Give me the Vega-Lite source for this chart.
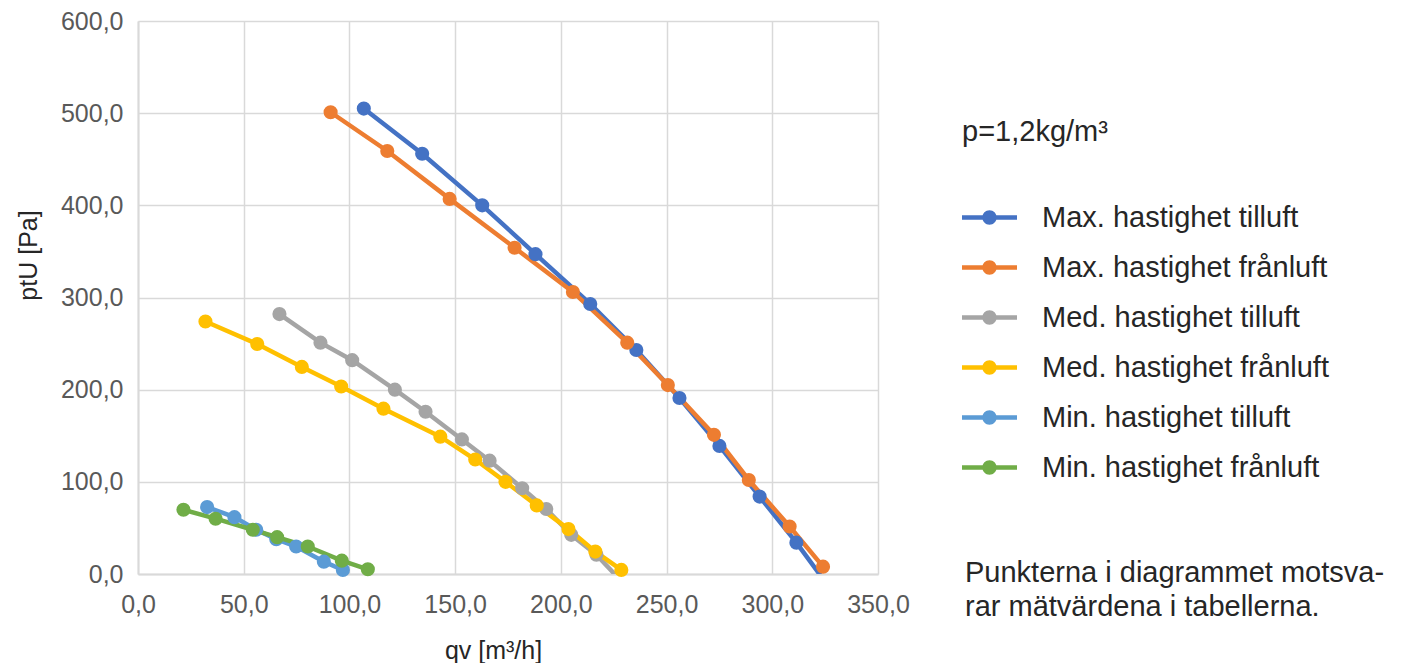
{
  "$schema": "https://vega.github.io/schema/vega-lite/v6.json",
  "width": 740,
  "height": 553,
  "autosize": {"type": "none"},
  "padding": {"left": 138, "top": 21, "right": 527, "bottom": 89},
  "background": "white",
  "title": {
    "text": ["Punkterna i diagrammet motsva-", "rar mätvärdena i tabellerna."],
    "orient": "bottom",
    "anchor": "start",
    "frame": "group",
    "align": "left",
    "baseline": "top",
    "dx": 827,
    "dy": -104,
    "offset": 0,
    "fontSize": 29,
    "font": "Liberation Sans",
    "fontWeight": "normal",
    "color": "#262626",
    "lineHeight": 34
  },
  "config": {
    "view": {"stroke": null},
    "font": "Liberation Sans"
  },
  "data": {
    "values": [
      {"serie": "Max. hastighet tilluft", "qv": 106.8, "ptU": 505},
      {"serie": "Max. hastighet tilluft", "qv": 134.4, "ptU": 456},
      {"serie": "Max. hastighet tilluft", "qv": 162.8, "ptU": 400},
      {"serie": "Max. hastighet tilluft", "qv": 188.0, "ptU": 347},
      {"serie": "Max. hastighet tilluft", "qv": 213.9, "ptU": 293},
      {"serie": "Max. hastighet tilluft", "qv": 235.7, "ptU": 243},
      {"serie": "Max. hastighet tilluft", "qv": 256.1, "ptU": 191},
      {"serie": "Max. hastighet tilluft", "qv": 275.0, "ptU": 139},
      {"serie": "Max. hastighet tilluft", "qv": 294.0, "ptU": 84},
      {"serie": "Max. hastighet tilluft", "qv": 311.4, "ptU": 34},
      {"serie": "Max. hastighet tilluft", "qv": 325.5, "ptU": -10},
      {"serie": "Max. hastighet frånluft", "qv": 91.1, "ptU": 501},
      {"serie": "Max. hastighet frånluft", "qv": 117.9, "ptU": 459},
      {"serie": "Max. hastighet frånluft", "qv": 147.4, "ptU": 407},
      {"serie": "Max. hastighet frånluft", "qv": 178.1, "ptU": 354},
      {"serie": "Max. hastighet frånluft", "qv": 205.7, "ptU": 306},
      {"serie": "Max. hastighet frånluft", "qv": 231.4, "ptU": 251},
      {"serie": "Max. hastighet frånluft", "qv": 250.6, "ptU": 205},
      {"serie": "Max. hastighet frånluft", "qv": 272.4, "ptU": 151},
      {"serie": "Max. hastighet frånluft", "qv": 288.9, "ptU": 102},
      {"serie": "Max. hastighet frånluft", "qv": 308.2, "ptU": 51.5},
      {"serie": "Max. hastighet frånluft", "qv": 324.0, "ptU": 8},
      {"serie": "Med. hastighet tilluft", "qv": 66.9, "ptU": 282},
      {"serie": "Med. hastighet tilluft", "qv": 86.3, "ptU": 251},
      {"serie": "Med. hastighet tilluft", "qv": 101.3, "ptU": 232},
      {"serie": "Med. hastighet tilluft", "qv": 121.5, "ptU": 200},
      {"serie": "Med. hastighet tilluft", "qv": 136.0, "ptU": 176},
      {"serie": "Med. hastighet tilluft", "qv": 153.2, "ptU": 146},
      {"serie": "Med. hastighet tilluft", "qv": 166.3, "ptU": 123},
      {"serie": "Med. hastighet tilluft", "qv": 181.7, "ptU": 93},
      {"serie": "Med. hastighet tilluft", "qv": 193.1, "ptU": 70.5},
      {"serie": "Med. hastighet tilluft", "qv": 204.9, "ptU": 42.5},
      {"serie": "Med. hastighet tilluft", "qv": 216.8, "ptU": 21},
      {"serie": "Med. hastighet tilluft", "qv": 229.5, "ptU": -10},
      {"serie": "Med. hastighet frånluft", "qv": 31.9, "ptU": 274},
      {"serie": "Med. hastighet frånluft", "qv": 56.4, "ptU": 249.5},
      {"serie": "Med. hastighet frånluft", "qv": 77.5, "ptU": 224.7},
      {"serie": "Med. hastighet frånluft", "qv": 96.1, "ptU": 203.4},
      {"serie": "Med. hastighet frånluft", "qv": 116.1, "ptU": 179.4},
      {"serie": "Med. hastighet frånluft", "qv": 143.0, "ptU": 149},
      {"serie": "Med. hastighet frånluft", "qv": 159.5, "ptU": 124.2},
      {"serie": "Med. hastighet frånluft", "qv": 173.8, "ptU": 100},
      {"serie": "Med. hastighet frånluft", "qv": 188.6, "ptU": 74.4},
      {"serie": "Med. hastighet frånluft", "qv": 203.6, "ptU": 48.7},
      {"serie": "Med. hastighet frånluft", "qv": 216.3, "ptU": 24.3},
      {"serie": "Med. hastighet frånluft", "qv": 228.6, "ptU": 4.4},
      {"serie": "Min. hastighet tilluft", "qv": 32.7, "ptU": 72.6},
      {"serie": "Min. hastighet tilluft", "qv": 45.6, "ptU": 61.7},
      {"serie": "Min. hastighet tilluft", "qv": 55.9, "ptU": 48},
      {"serie": "Min. hastighet tilluft", "qv": 65.4, "ptU": 37.8},
      {"serie": "Min. hastighet tilluft", "qv": 74.8, "ptU": 29.8},
      {"serie": "Min. hastighet tilluft", "qv": 87.9, "ptU": 13.4},
      {"serie": "Min. hastighet tilluft", "qv": 96.9, "ptU": 4.4},
      {"serie": "Min. hastighet frånluft", "qv": 21.5, "ptU": 69.7},
      {"serie": "Min. hastighet frånluft", "qv": 36.7, "ptU": 60},
      {"serie": "Min. hastighet frånluft", "qv": 54.3, "ptU": 48},
      {"serie": "Min. hastighet frånluft", "qv": 65.8, "ptU": 40},
      {"serie": "Min. hastighet frånluft", "qv": 80.3, "ptU": 29.8},
      {"serie": "Min. hastighet frånluft", "qv": 96.4, "ptU": 14.5},
      {"serie": "Min. hastighet frånluft", "qv": 108.7, "ptU": 5.1}
    ]
  },
  "encoding": {
    "x": {
      "field": "qv",
      "type": "quantitative",
      "scale": {"domain": [0, 350], "nice": false, "zero": true},
      "axis": {
        "title": "qv [m³/h]",
        "values": [0, 50, 100, 150, 200, 250, 300, 350],
        "labelExpr": "replace(format(datum.value, '.1f'), '.', ',')",
        "grid": true,
        "gridColor": "#d9d9d9",
        "gridWidth": 1.5,
        "ticks": false,
        "domainColor": "#d9d9d9",
        "domainWidth": 2,
        "labelFontSize": 25,
        "labelColor": "#595959",
        "labelPadding": 18,
        "labelFlush": false,
        "labelOverlap": false,
        "titleFontSize": 25,
        "titleFontWeight": "normal",
        "titleColor": "#262626",
        "titleX": 355,
        "titleY": 76,
        "titleAlign": "center",
        "titleBaseline": "middle"
      }
    },
    "y": {
      "field": "ptU",
      "type": "quantitative",
      "scale": {"domain": [0, 600], "nice": false, "zero": true},
      "axis": {
        "title": "ptU [Pa]",
        "values": [0, 100, 200, 300, 400, 500, 600],
        "labelExpr": "replace(format(datum.value, '.1f'), '.', ',')",
        "grid": true,
        "gridColor": "#d9d9d9",
        "gridWidth": 1.5,
        "ticks": false,
        "domainColor": "#d9d9d9",
        "domainWidth": 2,
        "labelFontSize": 25,
        "labelColor": "#595959",
        "labelPadding": 15,
        "labelFlush": false,
        "labelOverlap": false,
        "titleFontSize": 25,
        "titleFontWeight": "normal",
        "titleColor": "#262626",
        "titleX": -110,
        "titleY": 234,
        "titleAngle": 270,
        "titleAlign": "center",
        "titleBaseline": "middle"
      }
    },
    "color": {
      "field": "serie",
      "type": "nominal",
      "scale": {
        "domain": ["Max. hastighet tilluft", "Max. hastighet frånluft", "Med. hastighet tilluft", "Med. hastighet frånluft", "Min. hastighet tilluft", "Min. hastighet frånluft"],
        "range": ["#4472C4", "#ED7D31", "#A5A5A5", "#FFC000", "#5B9BD5", "#70AD47"]
      },
      "legend": {
        "orient": "none",
        "legendX": 824,
        "legendY": 97,
        "padding": 0,
        "title": "p=1,2kg/m³",
        "titleFontSize": 29,
        "titleFontWeight": "normal",
        "titleColor": "#262626",
        "titlePadding": 56,
        "titleBaseline": "top",
        "labelFontSize": 29,
        "labelColor": "#262626",
        "labelOffset": 38,
        "labelLimit": 0,
        "symbolType": "M-2.75,-0.22L2.75,-0.22L2.75,0.22L-2.75,0.22Z M-0.72,0C-0.72,-0.3976 -0.3976,-0.72 0,-0.72C0.3976,-0.72 0.72,-0.3976 0.72,0C0.72,0.3976 0.3976,0.72 0,0.72C-0.3976,0.72 -0.72,0.3976 -0.72,0Z",
        "symbolSize": 400,
        "symbolStrokeWidth": 0,
        "symbolOffset": 13,
        "symbolOpacity": 1,
        "rowPadding": 20,
        "encode": {
          "symbols": {
            "update": {
              "fill": {"scale": "color", "field": "value"},
              "stroke": {"value": "transparent"},
              "opacity": {"value": 1}
            }
          }
        }
      }
    }
  },
  "layer": [
    {"mark": {"type": "line", "strokeWidth": 4.5, "clip": true}},
    {
      "transform": [{"filter": "datum.ptU >= 0"}],
      "mark": {"type": "point", "filled": true, "size": 200, "opacity": 1}
    }
  ]
}
